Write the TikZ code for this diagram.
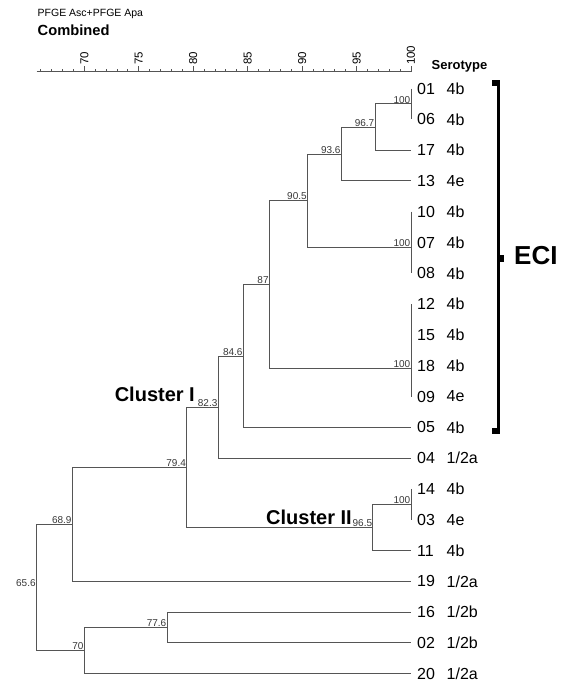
\documentclass[tikz,border=0pt]{standalone}
\usepackage{fontspec}
\setmainfont{Liberation Sans}
\definecolor{linegray}{RGB}{85,85,85}
\definecolor{simgray}{RGB}{55,55,55}
\begin{document}
\begin{tikzpicture}[x=1pt,y=-1pt,
  br/.style={draw=linegray,line width=1pt},
  axisline/.style={draw=linegray,line width=0.8pt},
  sim/.style={font=\fontsize{10}{10}\selectfont,text=simgray,inner sep=0.6pt,anchor=south east},
  leaftxt/.style={font=\fontsize{16}{16}\selectfont,anchor=west,inner sep=0pt},
  axlab/.style={font=\fontsize{11.5}{11.5}\selectfont,rotate=90,anchor=west,inner sep=0.5pt},
  cluster/.style={font=\bfseries\fontsize{20}{20}\selectfont,anchor=east,inner sep=0pt},
  bracketline/.style={draw=black,line width=3pt,line join=miter}]
\useasboundingbox (0,0) rectangle (564,683);

% header
\node[anchor=west,font=\fontsize{10.5}{12}\selectfont,inner sep=0pt] (hdr) at (37.5,14) {PFGE Asc+PFGE Apa};
\node[anchor=west,font=\bfseries\fontsize{14.7}{16}\selectfont,inner sep=0pt] (comb) at (37.5,30.5) {Combined};
\node[anchor=west,font=\bfseries\fontsize{13}{13}\selectfont,inner sep=0pt] (serotype) at (431.5,66) {Serotype};

% axis
\coordinate (axL) at (36.7,71.7);
\coordinate (axR) at (411,71.7);
\draw[axisline] (axL) -- (axR);
\foreach \v in {66,...,100}{
  \pgfmathsetmacro{\xx}{411-(100-\v)*10.89}
  \pgfmathsetmacro{\tl}{mod(\v,5)==0 ? 6 : 3}
  \draw[axisline] (\xx,71.7) -- (\xx,71.7-\tl);
}
\foreach \v in {70,75,...,100}{
  \pgfmathsetmacro{\xx}{411-(100-\v)*10.89}
  \node[axlab] (ax\v) at (\xx,65.5) {\v};
}

% leaves
\foreach \i/\id/\s in {0/01/4b,1/06/4b,2/17/4b,3/13/4e,4/10/4b,5/07/4b,6/08/4b,7/12/4b,8/15/4b,9/18/4b,10/09/4e,11/05/4b,12/04/1\slash 2a,13/14/4b,14/03/4e,15/11/4b,16/19/1\slash 2a,17/16/1\slash 2b,18/02/1\slash 2b,19/20/1\slash 2a}{
  \pgfmathsetmacro{\yy}{88.5+30.8*\i}
  \coordinate (L\id) at (411,\yy);
  \node[leaftxt] (t\id) at (417,\yy) {\id};
  \node[leaftxt] (s\id) at (446.5,\yy) {\s};
}

% internal nodes
\coordinate (g1) at (411,103.9);
\coordinate (n967) at (375.1,127.0);
\coordinate (n936) at (341.3,154.0);
\coordinate (g2) at (411,247.5);
\coordinate (n905) at (307.5,200.7);
\coordinate (g3) at (411,368.7);
\coordinate (n87) at (269.4,284.7);
\coordinate (n846) at (243.3,356.0);
\coordinate (n823) at (218.2,407.1);
\coordinate (g4) at (411,504.3);
\coordinate (n965) at (372.9,527.4);
\coordinate (n794) at (186.7,467.3);
\coordinate (n689) at (72.3,524.3);
\coordinate (n776) at (167.1,627.5);
\coordinate (n70) at (84.3,650.6);
\coordinate (n656) at (36.4,587.5);

% group verticals (100 % similarity)
\draw[br] (L01) -- (L06);
\draw[br] (L10) -- (L08);
\draw[br] (L12) -- (L09);
\draw[br] (L14) -- (L03);

% branches
\draw[br] (n967) |- (g1);  \draw[br] (n967) |- (L17);
\draw[br] (n936) |- (n967); \draw[br] (n936) |- (L13);
\draw[br] (n905) |- (n936); \draw[br] (n905) |- (g2);
\draw[br] (n87) |- (n905);  \draw[br] (n87) |- (g3);
\draw[br] (n846) |- (n87);  \draw[br] (n846) |- (L05);
\draw[br] (n823) |- (n846); \draw[br] (n823) |- (L04);
\draw[br] (n965) |- (g4);   \draw[br] (n965) |- (L11);
\draw[br] (n794) |- (n823); \draw[br] (n794) |- (n965);
\draw[br] (n689) |- (n794); \draw[br] (n689) |- (L19);
\draw[br] (n776) |- (L16);  \draw[br] (n776) |- (L02);
\draw[br] (n70) |- (n776);  \draw[br] (n70) |- (L20);
\draw[br] (n656) |- (n689); \draw[br] (n656) |- (n70);

% similarity values
\node[sim] (v1) at (g1) {100};
\node[sim] (v2) at (g2) {100};
\node[sim] (v3) at (g3) {100};
\node[sim] (v4) at (g4) {100};
\node[sim] (v967) at (n967) {96.7};
\node[sim] (v936) at (n936) {93.6};
\node[sim] (v905) at (n905) {90.5};
\node[sim] (v87) at (n87) {87};
\node[sim] (v846) at (n846) {84.6};
\node[sim] (v823) at (n823) {82.3};
\node[sim] (v965) at (n965) {96.5};
\node[sim] (v794) at (n794) {79.4};
\node[sim] (v689) at (n689) {68.9};
\node[sim] (v776) at (n776) {77.6};
\node[sim] (v70) at (n70) {70};
\node[sim] (v656) at (n656) {65.6};

% cluster labels
\node[cluster] (c1) at (195,394) {Cluster I};
\node[cluster] (c2) at (352,517) {Cluster II};

% ECI bracket
\coordinate (bt) at (498.5,83);
\coordinate (bb) at (498.5,431);
\coordinate (bm) at (498.5,258);
\draw[bracketline] (492,83) -- (bt) -- (bb) -- (492,431);
\fill (492,80) rectangle (500,86);
\fill (491.5,428) rectangle (500,434);
\fill (bm) ++(-1,-3.5) rectangle ++(6,7);
\node[anchor=west,font=\bfseries\fontsize{26}{26}\selectfont,inner sep=0pt] (eci) at (514,256) {ECI};
\end{tikzpicture}
\end{document}
